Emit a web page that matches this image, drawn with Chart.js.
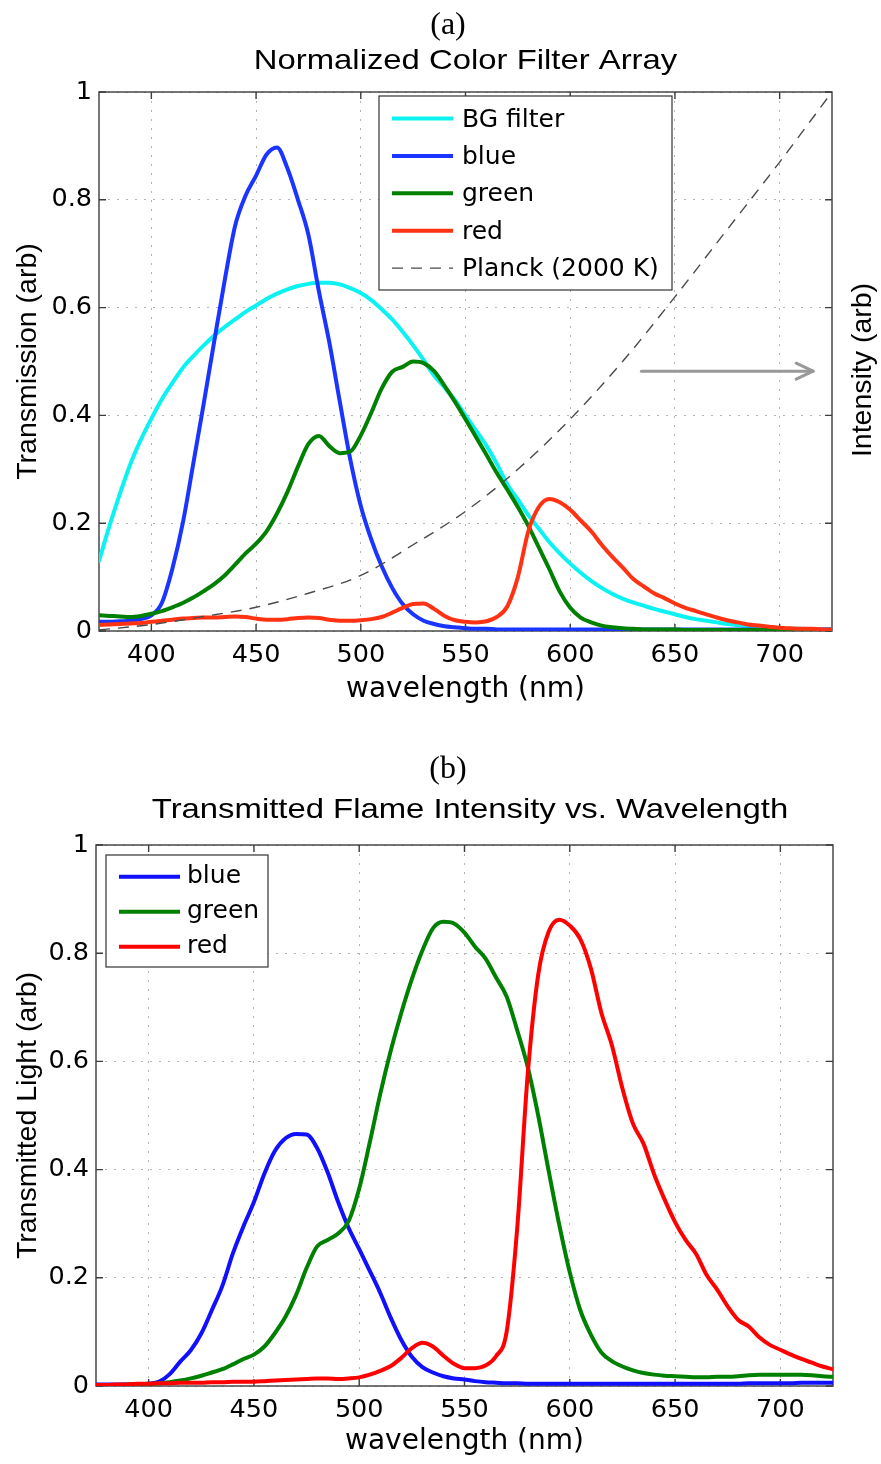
<!DOCTYPE html>
<html><head><meta charset="utf-8">
<script src="https://cdn.jsdelivr.net/npm/chart.js@4.4.1/dist/chart.umd.min.js"></script>
<style>
html,body{margin:0;padding:0;background:#fff;}
body{width:881px;height:1464px;overflow:hidden;}
canvas{display:block;}
</style></head><body>
<canvas id="ca" width="881" height="740"></canvas>
<canvas id="cb" width="881" height="724"></canvas>
<script>
// ---------------- data ----------------
const wavelengths = [375,380,385,390,395,400,405,410,415,420,425,430,435,440,445,450,455,460,465,470,475,480,485,490,495,500,505,510,515,520,525,530,535,540,545,550,555,560,565,570,575,580,585,590,595,600,605,610,615,620,625,630,635,640,645,650,655,660,665,670,675,680,685,690,695,700,705,710,715,720,725];

// panel (a): normalized colour filter array
const bgFilterA = [0.13,0.195,0.255,0.31,0.355,0.394,0.43,0.46,0.488,0.51,
  0.53,0.548,0.564,0.578,0.592,0.604,0.616,0.626,0.634,0.64,
  0.644,0.646,0.646,0.643,0.636,0.627,0.614,0.597,0.578,0.555,
  0.53,0.503,0.474,0.452,0.428,0.4,0.372,0.344,0.31,0.272,
  0.244,0.215,0.19,0.165,0.144,0.125,0.108,0.093,0.08,0.069,
  0.06,0.053,0.047,0.041,0.036,0.031,0.026,0.022,0.019,0.016,
  0.013,0.011,0.009,0.007,0.006,0.005,0.004,0.004,0.003,0.003,
  0.003];
const blueA = [0.017,0.017,0.018,0.019,0.022,0.029,0.052,0.115,0.2,0.31,
  0.422,0.537,0.65,0.752,0.808,0.845,0.884,0.897,0.858,0.8,
  0.735,0.63,0.535,0.425,0.318,0.232,0.17,0.12,0.08,0.05,
  0.031,0.019,0.013,0.009,0.007,0.005,0.004,0.004,0.003,0.003,
  0.003,0.003,0.003,0.003,0.003,0.003,0.003,0.003,0.003,0.003,
  0.003,0.003,0.003,0.003,0.003,0.003,0.003,0.003,0.003,0.003,
  0.003,0.003,0.003,0.003,0.003,0.003,0.003,0.003,0.003,0.003,
  0.003];
const greenA = [0.029,0.028,0.027,0.026,0.028,0.032,0.037,0.044,0.052,0.062,
  0.074,0.087,0.103,0.123,0.144,0.162,0.185,0.218,0.258,0.305,
  0.347,0.362,0.343,0.33,0.333,0.363,0.405,0.45,0.481,0.49,
  0.5,0.497,0.482,0.455,0.425,0.393,0.36,0.327,0.293,0.262,
  0.23,0.195,0.155,0.115,0.073,0.043,0.025,0.016,0.01,0.007,
  0.005,0.004,0.003,0.003,0.003,0.003,0.002,0.002,0.002,0.002,
  0.002,0.002,0.002,0.002,0.002,0.002,0.002,0.002,0.002,0.002,
  0.002];
const redA = [0.011,0.012,0.013,0.014,0.015,0.017,0.019,0.021,0.023,0.024,
  0.025,0.025,0.026,0.027,0.026,0.023,0.021,0.021,0.022,0.024,
  0.025,0.024,0.021,0.019,0.019,0.02,0.022,0.026,0.034,0.043,
  0.05,0.051,0.041,0.028,0.02,0.017,0.016,0.018,0.026,0.046,
  0.1,0.185,0.23,0.245,0.239,0.225,0.205,0.185,0.16,0.138,
  0.118,0.097,0.083,0.07,0.061,0.051,0.043,0.037,0.031,0.025,
  0.02,0.016,0.012,0.01,0.008,0.006,0.005,0.004,0.004,0.003,
  0.003];
const planckWavelengths = [375,400,425,450,475,500,525,550,575,600,625,650,675,700,725];
const planckA = [0.002,0.012,0.027,0.044,0.07,0.103,0.16,0.222,0.3,0.393,0.5,0.62,0.745,0.87,1.0];

// panel (b): transmitted flame intensity
const blueB = [0.003,0.003,0.003,0.003,0.003,0.004,0.008,0.022,0.045,0.066,
  0.097,0.14,0.185,0.245,0.295,0.34,0.393,0.435,0.458,0.466,
  0.465,0.44,0.395,0.34,0.292,0.253,0.213,0.172,0.126,0.085,
  0.054,0.035,0.025,0.018,0.014,0.012,0.009,0.007,0.006,0.005,
  0.005,0.004,0.004,0.004,0.004,0.004,0.004,0.004,0.004,0.004,
  0.004,0.004,0.004,0.004,0.004,0.004,0.004,0.004,0.004,0.004,
  0.004,0.004,0.005,0.005,0.005,0.005,0.005,0.006,0.006,0.006,
  0.006];
const greenB = [0.002,0.002,0.002,0.003,0.003,0.004,0.005,0.007,0.01,0.014,
  0.019,0.025,0.031,0.04,0.05,0.058,0.073,0.098,0.128,0.168,
  0.218,0.258,0.27,0.282,0.305,0.365,0.45,0.54,0.62,0.69,
  0.752,0.805,0.846,0.858,0.855,0.838,0.812,0.79,0.755,0.72,
  0.658,0.59,0.5,0.397,0.298,0.21,0.14,0.095,0.062,0.046,
  0.036,0.029,0.024,0.021,0.019,0.018,0.017,0.016,0.016,0.017,
  0.017,0.018,0.02,0.021,0.021,0.021,0.021,0.021,0.02,0.018,
  0.017];
const redB = [0.002,0.002,0.003,0.003,0.004,0.004,0.005,0.005,0.006,0.006,
  0.006,0.007,0.007,0.008,0.008,0.008,0.009,0.01,0.011,0.012,
  0.013,0.014,0.014,0.013,0.014,0.016,0.021,0.028,0.037,0.052,
  0.07,0.08,0.073,0.056,0.041,0.033,0.033,0.038,0.055,0.1,
  0.29,0.575,0.76,0.84,0.862,0.851,0.826,0.772,0.69,0.63,
  0.55,0.485,0.448,0.392,0.345,0.303,0.27,0.244,0.205,0.178,
  0.147,0.122,0.11,0.09,0.076,0.067,0.058,0.05,0.043,0.036,
  0.031];

const xRange = [375, 725];
const xTickValues = [400,450,500,550,600,650,700];
const xTickLabels = ['400','450','500','550','600','650','700'];
const yTickValues = [0,0.2,0.4,0.6,0.8,1];
const yTickLabels = ['0','0.2','0.4','0.6','0.8','1'];
const arrowA = {from:[634, 0.482], to:[716, 0.482]};

// ---------------- helpers ----------------
const H_FONT = 'DejaVu Sans';
const V_FONT = 'Liberation Sans';
Chart.defaults.color = '#000';
Chart.defaults.font.family = H_FONT;

function pts(xs, ys){ return xs.map((x,i)=>({x:x, y:ys[i]})); }
function line(label, xs, ys, color, extra){
  return Object.assign({label:label, data:pts(xs,ys), borderColor:color, backgroundColor:color,
    borderWidth:4, pointRadius:0, fill:false, cubicInterpolationMode:'monotone',
    borderCapStyle:'round', borderJoinStyle:'round'}, extra||{});
}
const gridCfg = {color:'#b4b4b4', lineWidth:1, drawTicks:false};
const borderCfg = {display:false, dash:[2,7]};

function xScale(h, titlePadBottom){
  return {type:'linear', min:xRange[0], max:xRange[1],
    afterBuildTicks: s => { s.ticks = xTickValues.map(v=>({value:v})); },
    afterFit: s => { s.height = h; },
    ticks:{autoSkip:false, maxRotation:0, minRotation:0, padding:9, font:{family:H_FONT,size:25.5}, color:'#000',
      callback:(v,i)=>xTickLabels[i]},
    grid:gridCfg, border:borderCfg,
    title:{display:true, text:'wavelength (nm)', font:{family:H_FONT,size:28}, color:'#000', padding:{top:0,bottom:titlePadBottom}}
  };
}
function yScale(w, title){
  return {type:'linear', min:0, max:1, position:'left',
    afterBuildTicks: s => { s.ticks = yTickValues.map(v=>({value:v})); },
    afterFit: s => { s.width = w; },
    ticks:{padding:7, font:{family:H_FONT,size:25.5}, color:'#000', callback:(v,i)=>yTickLabels[i]},
    grid:gridCfg, border:borderCfg,
    title:{display:true, text:title, font:{family:V_FONT,size:28.5}, color:'#000', padding:{top:11,bottom:0}}
  };
}

const matlabAxes = {
  id:'matlabAxes',
  beforeDatasetsDraw(chart, args, o){
    const {ctx, chartArea:a, scales} = chart;
    const x = scales.x, y = scales.y;
    ctx.save();
    ctx.strokeStyle = o.color; ctx.lineWidth = o.width; ctx.setLineDash([]);
    ctx.beginPath();
    xTickValues.forEach(v=>{ const p = x.getPixelForValue(v);
      ctx.moveTo(p,a.bottom); ctx.lineTo(p,a.bottom-o.tick); ctx.moveTo(p,a.top); ctx.lineTo(p,a.top+o.tick); });
    yTickValues.forEach(v=>{ const p = y.getPixelForValue(v);
      ctx.moveTo(a.left,p); ctx.lineTo(a.left+o.tick,p); ctx.moveTo(a.right,p); ctx.lineTo(a.right-o.tick,p); });
    ctx.stroke();
    ctx.strokeRect(a.left, a.top, a.right-a.left, a.bottom-a.top);
    ctx.restore();
  }
};
const boxLegend = {
  id:'boxLegend',
  afterDatasetsDraw(chart, args, o){
    const ctx = chart.ctx;
    ctx.save();
    ctx.fillStyle='#fff'; ctx.fillRect(o.x,o.y,o.w,o.h);
    ctx.strokeStyle='#333'; ctx.lineWidth=1.2; ctx.strokeRect(o.x,o.y,o.w,o.h);
    ctx.font = o.fontSize+'px "'+H_FONT+'"'; ctx.textBaseline='middle'; ctx.textAlign='left';
    chart.data.datasets.forEach((ds,i)=>{
      const cy = o.firstRow + i*o.rowStep;
      ctx.save();
      ctx.strokeStyle = ds.borderColor; ctx.lineWidth = ds.borderWidth; ctx.setLineDash(ds.borderDash||[]);
      ctx.beginPath(); ctx.moveTo(o.lineX0, cy-o.lineLift); ctx.lineTo(o.lineX1, cy-o.lineLift); ctx.stroke();
      ctx.restore();
      ctx.fillStyle='#000';
      ctx.fillText(ds.label, o.textX, cy);
    });
    ctx.restore();
  }
};
const figureText = {
  id:'figureText',
  afterDraw(chart, args, o){
    const ctx = chart.ctx;
    (o.items||[]).forEach(it=>{
      ctx.save();
      ctx.translate(it.x, it.y);
      if (it.rot) ctx.rotate(it.rot);
      ctx.scale(it.sx||1, 1);
      ctx.font = it.font; ctx.fillStyle='#000';
      ctx.textAlign='center'; ctx.textBaseline = it.baseline||'alphabetic';
      ctx.fillText(it.text, 0, 0);
      ctx.restore();
    });
  }
};
const arrowPlugin = {
  id:'arrowAnnot',
  afterDatasetsDraw(chart, args, o){
    if (!o.from) return;
    const {ctx, scales:{x,y}} = chart;
    const x0 = x.getPixelForValue(o.from[0]), y0 = y.getPixelForValue(o.from[1]);
    const x1 = x.getPixelForValue(o.to[0]), y1 = y.getPixelForValue(o.to[1]);
    ctx.save();
    ctx.strokeStyle = o.color; ctx.lineWidth = o.width; ctx.lineCap='round'; ctx.lineJoin='round';
    ctx.beginPath(); ctx.moveTo(x0,y0); ctx.lineTo(x1,y1); ctx.stroke();
    ctx.beginPath(); ctx.moveTo(x1-o.head, y1-o.spread); ctx.lineTo(x1,y1); ctx.lineTo(x1-o.head, y1+o.spread); ctx.stroke();
    ctx.restore();
  }
};

// ---------------- chart (a) ----------------
new Chart(document.getElementById('ca'), {
  type:'line',
  data:{datasets:[
    line('BG filter', wavelengths, bgFilterA, '#0cf2f2', {order:5}),
    line('blue', wavelengths, blueA, '#1a35ff', {order:4}),
    line('green', wavelengths, greenA, '#008000', {order:3}),
    line('red', wavelengths, redA, '#ff3314', {order:2}),
    line('Planck (2000 K)', planckWavelengths, planckA, '#4a4a4a', {order:1, yAxisID:'y2', borderWidth:1.4, borderDash:[11,8], borderCapStyle:'butt'})
  ]},
  options:{
    responsive:false, animation:false, devicePixelRatio:1,
    layout:{padding:{top:92,left:0,right:49,bottom:0}},
    scales:{
      x: xScale(109, 33),
      y: yScale(99, 'Transmission (arb)'),
      y2:{type:'linear', min:0, max:1, position:'right', display:false}
    },
    plugins:{
      legend:{display:false}, tooltip:{enabled:false},
      matlabAxes:{color:'#3c3c3c', width:1.4, tick:7},
      boxLegend:{x:379, y:96, w:293, h:194, firstRow:120, rowStep:37.4, lineX0:392, lineX1:453, lineLift:1.5, textX:462, fontSize:25},
      arrowAnnot:{from:arrowA.from, to:arrowA.to, color:'#999999', width:3, head:17, spread:8},
      figureText:{items:[
        {text:'(a)', x:448, y:34, font:'32px "Liberation Serif"', sx:1.0},
        {text:'Normalized Color Filter Array', x:465.5, y:69, font:'28px "Liberation Sans"', sx:1.173},
        {text:'Intensity (arb)', x:863, y:370, font:'28.5px "Liberation Sans"', rot:-Math.PI/2, baseline:'middle'}
      ]}
    }
  },
  plugins:[matlabAxes, boxLegend, arrowPlugin, figureText]
});

// ---------------- chart (b) ----------------
new Chart(document.getElementById('cb'), {
  type:'line',
  data:{datasets:[
    line('blue', wavelengths, blueB, '#1010ff', {order:3}),
    line('green', wavelengths, greenB, '#008000', {order:2}),
    line('red', wavelengths, redB, '#ff0000', {order:1})
  ]},
  options:{
    responsive:false, animation:false, devicePixelRatio:1,
    layout:{padding:{top:105,left:0,right:48,bottom:0}},
    scales:{
      x: xScale(78, 5),
      y: yScale(96, 'Transmitted Light (arb)')
    },
    plugins:{
      legend:{display:false}, tooltip:{enabled:false},
      matlabAxes:{color:'#3c3c3c', width:1.4, tick:7},
      boxLegend:{x:106, y:115, w:162, h:112, firstRow:136.7, rowStep:35, lineX0:119, lineX1:180, lineLift:0, textX:187, fontSize:25},
      figureText:{items:[
        {text:'(b)', x:448, y:38, font:'32px "Liberation Serif"', sx:1.0},
        {text:'Transmitted Flame Intensity vs. Wavelength', x:470, y:78, font:'28px "Liberation Sans"', sx:1.173}
      ]}
    }
  },
  plugins:[matlabAxes, boxLegend, arrowPlugin, figureText]
});
</script>
</body></html>
